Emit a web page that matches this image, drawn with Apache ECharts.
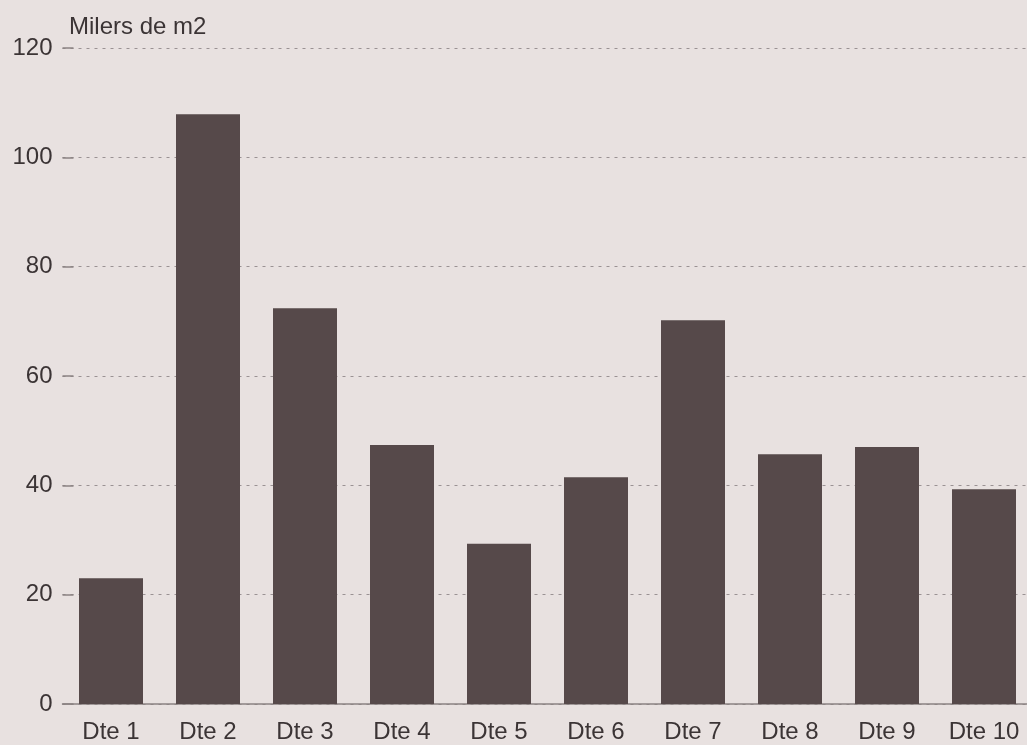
<!DOCTYPE html>
<html>
<head>
<meta charset="utf-8">
<script src="https://cdn.jsdelivr.net/npm/echarts@6/dist/echarts.min.js"></script>
<style>
html,body{margin:0;padding:0;background:#e8e1e0;}
#c{width:1027px;height:745px;}
</style>
</head>
<body>
<div id="c"></div>
<script>
const categories = ['Dte 1','Dte 2','Dte 3','Dte 4','Dte 5','Dte 6','Dte 7','Dte 8','Dte 9','Dte 10'];
const values = [23.0, 107.9, 72.4, 47.4, 29.3, 41.5, 70.2, 45.7, 47.0, 39.3];
const yTicks = [0, 20, 40, 60, 80, 100, 120];
const unitLabel = 'Milers de m2';

const chart = echarts.init(document.getElementById('c'), null, {renderer:'canvas'});
const txt = '#3b3435';
const ff = 'Liberation Sans, Arial, sans-serif';
chart.setOption({
  backgroundColor: '#e8e1e0',
  animation: false,
  title: {
    text: unitLabel,
    left: 64, top: 10,
    textStyle: {fontFamily: ff, fontSize: 24, fontWeight: 'normal', color: txt}
  },
  grid: {left: 62.5, top: 48, width: 970, bottom: 41, containLabel: false, outerBoundsMode: 'none'},
  xAxis: {
    type: 'category',
    data: categories,
    axisLine: {show: true, lineStyle: {color: '#8a8283', width: 1.5}},
    axisTick: {show: false},
    axisLabel: {color: txt, fontFamily: ff, fontSize: 24, margin: 16}
  },
  yAxis: {
    type: 'value',
    min: yTicks[0], max: yTicks[yTicks.length-1], interval: 20,
    axisLine: {show: false},
    axisTick: {show: true, inside: true, length: 11, lineStyle: {color: '#8a8283', width: 1.5}},
    axisLabel: {color: txt, fontFamily: ff, fontSize: 24, margin: 10},
    splitLine: {show: true, lineStyle: {color: '#9a9293', type: [3, 5], width: 1.2}}
  },
  series: [{
    type: 'bar',
    data: values,
    barWidth: 64,
    itemStyle: {color: '#56494a'}
  }]
});
</script>
</body>
</html>
